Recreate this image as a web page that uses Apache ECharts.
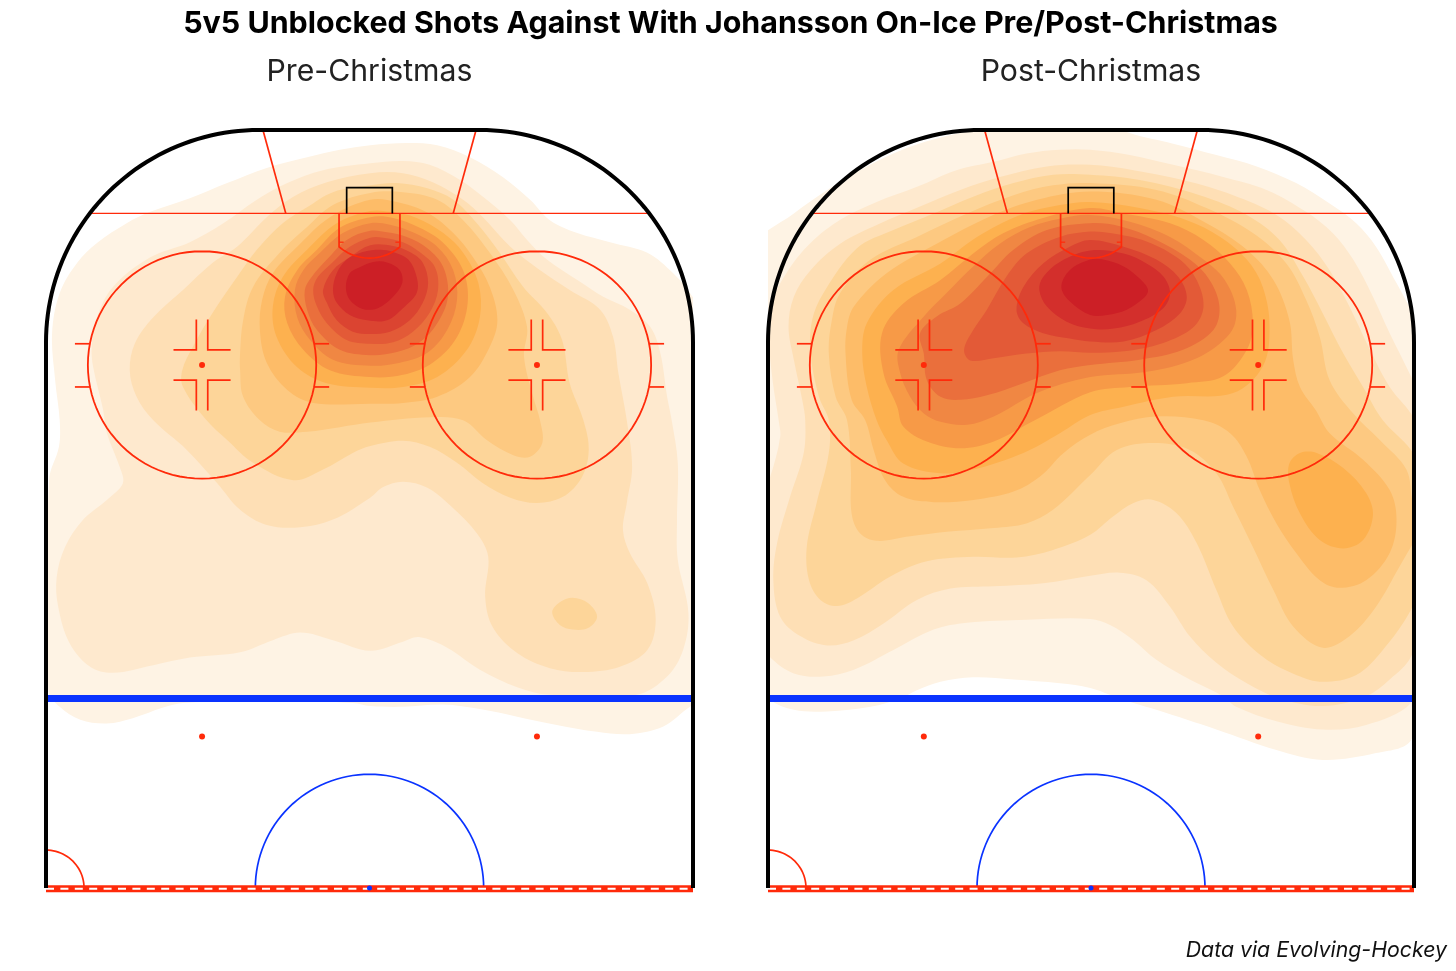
<!DOCTYPE html>
<html><head><meta charset="utf-8">
<style>html,body{margin:0;padding:0;background:#fff}#c{width:1456px;height:971px}</style>
<script src="https://cdn.jsdelivr.net/npm/echarts@6/dist/echarts.min.js"></script>
</head><body><div id="c"></div>
<script>
// All contour points are in rink feet: x = feet from centre of ice width, y = feet from the end boards.
const pre1=[[0.1,2],[4.9,1.7],[8.9,2],[13.2,3.6],[17.5,6.2],[21.1,9.2],[23.7,11.9],[27.3,13.6],[31.6,14.8],[36.5,16.2],[39.9,18.9],[42.1,21.5],[44,25],[44,70],[44,75.2],[42.1,76.1],[38.6,78.7],[34.2,79.7],[29.9,79.4],[24.6,78.5],[19.4,77.4],[14.5,76.4],[9.7,75.8],[4.4,76.1],[0.1,76],[-2.2,75.6],[-12.7,75.2],[-24.5,75.6],[-27.1,76.2],[-31.1,77.6],[-34.5,78.3],[-38,77.8],[-40.7,76.1],[-42.2,73.9],[-42.1,46.2],[-40.8,41.8],[-40.7,38.3],[-41.3,33],[-41.7,26.8],[-40.7,21.5],[-38.4,17.5],[-35.8,14.9],[-31.9,12.3],[-28.8,10.8],[-23.6,9],[-18.7,7],[-13.5,5],[-8.2,3.6],[-3.9,2.6]];
const pre2=[[0.1,4.4],[4.4,4.1],[7.9,4.6],[11.9,6.6],[15.4,9.2],[18.5,11.9],[20.7,14.5],[23.3,17.1],[27.3,19.8],[30.7,22],[34.2,23.7],[36.9,26],[38.2,29.4],[39.1,35.2],[39.7,38.3],[40.5,43.9],[40.4,51.4],[40.5,56.7],[41.9,63.7],[41.2,68.6],[39.1,72.1],[35.1,74.5],[23.7,74.5],[19.4,73.5],[14.5,71.2],[10.2,68.3],[6.5,66.9],[4.4,67.5],[0.1,68.7],[-4.8,67.3],[-9.1,66.3],[-12.7,67.3],[-17,68.9],[-23.6,69.6],[-28.4,70.6],[-33.7,71.6],[-36.7,70.8],[-39.4,67.7],[-40.9,62.9],[-41.1,59],[-40,55],[-37.6,51.4],[-34.5,48.8],[-32.4,46.6],[-32.8,44.5],[-34.5,40],[-35,36.9],[-36.3,31.3],[-36.5,28.6],[-35.8,24.7],[-33.7,20.7],[-28.8,16.8],[-23.6,14.8],[-19.2,12.3],[-14.8,9.2],[-10.8,7],[-6.1,5.3]];
const pre3=[[0.1,5.7],[4.4,5.7],[8.3,6.9],[12.3,9.2],[14.9,11.5],[18.5,15.4],[22,18.2],[26.3,21.1],[30.3,23.7],[32,27.3],[32.7,32.1],[33.8,38.3],[34.5,44.5],[33.8,49.2],[33.3,52.8],[34.2,55.8],[36.5,59.8],[37.6,64.6],[36.5,68.6],[32.9,70.8],[28.1,71.5],[23.7,71],[19.4,69],[16.2,65.6],[15.2,61.6],[15.6,56.3],[14.1,53.2],[11,49.9],[7.6,47.2],[4.4,46.4],[1.8,47.1],[0.1,48.5],[-4.8,51.4],[-9.1,52.4],[-13.5,52.1],[-17,50.1],[-20,46.6],[-24,42.2],[-28.4,38.3],[-30.6,35.2],[-31.5,31.7],[-30.8,28.1],[-28.4,24.7],[-24.5,21.1],[-20.6,17.5],[-17.4,15.4],[-13.5,11.5],[-10,8.8],[-5.6,6.9]];
const pre4=[[0.1,7.3],[3.6,7],[7.6,7.7],[11,9.2],[14.1,12.3],[17.1,16.2],[20.2,20.7],[23.3,24.1],[25.3,27.7],[26.3,33.4],[28.1,38.3],[28.8,42.2],[27.9,45.8],[25.4,48.4],[22,49.2],[18.5,48.5],[14.9,46.6],[11.5,43.9],[7.9,41.8],[4.4,41],[0.1,41.7],[-2.2,42.6],[-6.1,44.8],[-10,46.2],[-15.3,43.9],[-18.7,40.9],[-21.4,38.3],[-24.5,33.9],[-24.6,31.7],[-23.2,28.6],[-20.6,24.1],[-17.4,19.4],[-14.8,15.8],[-11.4,12.3],[-8.2,10.2],[-4.8,8.2]];
const pre4b=[[24,63.6],[25,62.3],[26.7,61.7],[28.7,62.4],[29.9,64.2],[28.7,65.7],[26.7,65.9],[25,65.3]];
const pre5=[[0.1,8.3],[4.4,8.2],[8.9,9.2],[12.3,11.9],[15.8,16.2],[18.9,21.1],[20.7,26],[20.3,29.9],[21.5,35.2],[22.4,38.3],[22.7,41.3],[21.1,43.1],[18.9,42.9],[15.4,40.9],[12.3,38.3],[7.9,37.9],[0.1,38.6],[-3.9,39.2],[-8.2,39.8],[-11.8,39.8],[-14.4,38.3],[-16.6,35.2],[-17,31.7],[-17,29.4],[-16.6,25.1],[-15.3,20.7],[-11.8,16.2],[-8.2,12.8],[-4.8,9.9]];
const pre6=[[0.1,9.2],[3.6,9.5],[7.6,10.9],[11,13.6],[13.6,16.8],[15.8,20.7],[16.8,25.1],[15.8,28.6],[13.2,32.6],[8.9,35.2],[4.4,36],[0.1,36.1],[-7.4,36],[-10.8,34.3],[-13.5,30.7],[-14.4,26.4],[-14.1,22.4],[-12.7,18.9],[-9.5,15.4],[-5.2,11.5]];
const pre7=[[0.1,10.7],[2.7,10.8],[6.2,11.6],[9.7,13.6],[12.3,16.2],[14.3,20.2],[14.5,24.7],[12.8,29],[8.9,32.6],[4.4,33.9],[0.1,34],[-5.6,33.4],[-9.5,31.3],[-12.2,27.3],[-12.7,23.3],[-11.4,19.4],[-8.2,15.8],[-4.3,12.3]];
const pre8=[[0.1,11.5],[3.1,11.6],[6.6,12.9],[9.7,14.9],[12.3,18.5],[12.9,22.8],[11.5,27.3],[8.3,30.7],[4.4,32.3],[0.1,32.6],[-5.2,31.7],[-8.7,29],[-10.8,25.5],[-11.1,22],[-9.5,18.5],[-6.9,15.8],[-3.9,12.9]];
const pre9=[[0.1,12.3],[2.7,12.5],[5.7,13.5],[8.9,15.4],[11,18.5],[11.5,22.4],[10.2,26.4],[7.6,29.4],[4,30.7],[0.1,31.1],[-4.8,30.3],[-7.8,27.7],[-9.5,24.7],[-9.8,21.1],[-8.7,18.5],[-6.5,16.2],[-3.5,13.6]];
const pre10=[[0.1,13.3],[2.3,13.5],[4.9,14.1],[7.6,15.6],[9.7,18.1],[10.3,22],[8.9,25.5],[6.6,28],[3.6,29.3],[0.1,29.7],[-3.9,29],[-6.9,26.4],[-8.2,23.7],[-8.5,21.1],[-7.6,19.4],[-5.6,17.1],[-3,14.5]];
const pre11=[[0.1,14.2],[1.8,14.2],[4.4,14.8],[6.6,16.1],[8.6,18.1],[9,21.1],[7.9,24.1],[5.7,26.6],[3.1,28],[0.1,28.2],[-3,27.7],[-5.6,25.5],[-6.9,23.3],[-7.4,21.1],[-6.8,19.4],[-4.9,17.5],[-2.6,15.4]];
const pre12=[[0.1,15.2],[3.1,15.3],[5.3,16.1],[7,17.5],[7.7,20.2],[7,22.8],[5.3,25.1],[2.7,26.6],[0.1,26.9],[-2.2,26.6],[-4.3,25.1],[-5.6,22.8],[-6.1,21.1],[-4.8,18.5],[-2.6,16.8]];
const pre13=[[1.4,15.8],[3.1,16.1],[5.1,17.1],[6.2,19.4],[6.2,21.5],[4.4,23.5],[2.3,25.1],[-0.3,25.1],[-2.6,24.4],[-4.3,22.8],[-4.8,21.1],[-4.3,18.9],[-3,17.1],[-0.9,16.1]];
const pre14=[[0.5,17.4],[2.4,17.5],[4,18.5],[4.3,20.2],[3.1,22],[1.1,23.5],[-0.9,23.6],[-2.6,22.4],[-3.1,20.7],[-2.6,18.9],[-1.5,18.2]];

const post1=[[-6.7,-1.3],[1.2,-1.3],[5.1,0.4],[10.8,1.8],[16.5,3.3],[21.8,4.8],[27,7],[31.4,9.7],[34.9,12.3],[37.5,15.4],[40.2,20.2],[42.1,23.7],[44,27],[44,72],[42.1,80.5],[37.5,82.2],[30.5,83.1],[24.4,81.8],[16.5,79.1],[8.6,76.5],[5.6,75.6],[2.5,74.5],[-0.1,73.6],[-4.1,73],[-10.2,72.5],[-15.5,72.2],[-19.8,72.8],[-22.9,73.9],[-25.1,75],[-29,76.1],[-34.7,76.7],[-39.1,76.5],[-42.2,75.2],[-44,73],[-44,28],[-44,15.2],[-39.1,11],[-34.7,7.9],[-30.4,5.3],[-26,3.1],[-21.6,1.5],[-17.2,0.4],[-13.7,-0.1]];
const post2=[[-0.1,2.6],[5.1,3.3],[10.8,4.6],[17.4,6.2],[23.1,7.9],[28.3,10.8],[31.8,13.6],[34.5,17.1],[37.1,22],[39.3,26.8],[42.1,32.5],[44,37],[44,70],[42.1,75.6],[36.2,78.5],[30.5,79.1],[24.4,78],[19.1,76.1],[17.4,74.7],[13,72.5],[8.6,69.9],[5.6,67.3],[2.5,65.3],[-0.1,64.5],[-8.5,64.6],[-16.3,65],[-20.7,65.9],[-26,68.6],[-31.2,71.2],[-35.2,72.1],[-39.1,71.7],[-42.3,69.5],[-44,67],[-44,50],[-42.2,45.7],[-40.9,40.5],[-41.1,38.3],[-41.9,33],[-42.4,27.3],[-42.2,23.3],[-40.4,19.4],[-37.4,15.4],[-33.4,12.1],[-28.2,9.5],[-22.9,7.5],[-17.7,5.3],[-12.8,4.2],[-8.5,3.1],[-4.1,2.6]];
const post3=[[-0.1,4.6],[5.6,5.3],[12.1,6.6],[18.7,8.6],[24.4,11.2],[28.3,14.5],[31.4,18.5],[34,23.3],[36.7,29],[39.3,33.9],[42.1,37.4],[44,41],[44,63],[42.1,69.5],[39.3,72.5],[36.2,74.7],[30.5,76],[24.8,75],[20.5,73],[16.5,70.3],[13,66.8],[10.4,62.9],[7.3,59.4],[3.8,58.4],[-0.1,58.8],[-6.3,59.8],[-12.8,60.2],[-18.5,60.5],[-22.9,62],[-27.3,65.1],[-31.2,67.3],[-34.7,68],[-38.2,66.8],[-40.9,64.2],[-41.8,59.4],[-41.3,54.5],[-39.6,48.4],[-37.8,42.6],[-37.6,38.3],[-38,35.6],[-39.1,30.3],[-39.8,26],[-39.1,22],[-36.9,18.5],[-33,15],[-27.7,12.3],[-22.5,10.1],[-17.2,7.9],[-12,6.2],[-5.8,4.8]];
const post4=[[-0.1,5.9],[6.4,6.6],[14.3,8.6],[20.5,11.2],[24.8,14.5],[27.9,19.3],[30.5,24.2],[33.2,29.5],[35.8,33.9],[38.4,38.3],[42.1,42.2],[44,46],[44,58],[42.1,63.3],[38.4,68.6],[34.9,71.9],[30.5,72.8],[27,71.9],[22.6,69.5],[18.7,65.5],[16.5,60.7],[13.9,54.5],[11.3,50.6],[8.2,48.8],[5.6,49.2],[2.9,51],[-0.1,53.4],[-5,55.4],[-9.8,56.4],[-15.5,56.3],[-21.6,56.9],[-26.4,58.9],[-30.8,61.8],[-33.4,62.8],[-35.6,62],[-37.1,59.4],[-37.4,55],[-36.1,49.2],[-34.5,42.6],[-34.5,38.3],[-35.8,35.2],[-36.9,29.5],[-36.7,25.1],[-35.2,21.5],[-30.8,15.6],[-26,13.2],[-20.7,11],[-15.5,8.8],[-10.2,7],[-5,5.9]];
const post5=[[-0.1,7],[8.6,7.9],[15.2,10.3],[21.3,13.6],[25.7,17.6],[28.3,22.4],[30.1,27.3],[31.4,33],[34.5,37.4],[38,40.9],[41.5,44.8],[42.4,49.2],[44,52],[42.4,54.5],[40.6,57.6],[37.5,62.9],[34,66.8],[30.5,68.3],[26.6,65.5],[24,60.7],[21.3,55],[18.7,49.7],[16.5,45.3],[13,42.2],[8.2,41.3],[3.4,42.2],[-0.1,45.5],[-5,50.1],[-8.5,51.9],[-12.8,52.5],[-19,53],[-23.8,53.6],[-28.2,54.2],[-30.4,53.2],[-31.5,50.6],[-31.6,44.8],[-32.1,38.3],[-33.6,35.2],[-34.5,29.5],[-34.1,25.1],[-33,21.5],[-29,17.1],[-22.9,14.1],[-16.3,11],[-10.2,8.6],[-5,7.3]];
const post6=[[-0.1,8.1],[8.6,9.2],[15.2,12.3],[20.5,15.8],[24,19.8],[26.1,25.1],[26.6,30.3],[27.5,33.9],[29.6,37],[31.4,40],[35.8,43.5],[39.3,47.5],[40.2,51.4],[39.3,55.8],[36.2,59.4],[32.7,60.4],[30.1,59.4],[27,55.8],[24.4,51.9],[22.2,47.5],[20.5,43.1],[18.3,40],[14.8,38.3],[8.6,37.8],[3.8,38.7],[-0.1,40.2],[-3.6,42.6],[-6.7,45.7],[-10.2,47.7],[-15.5,48.8],[-20.7,49.1],[-24.7,48.4],[-27.1,46.2],[-28.6,42.2],[-29.7,38.3],[-31.5,35.6],[-32.3,29.5],[-32.1,26],[-31.2,23.3],[-26.9,18.9],[-20.3,15],[-13.3,11.4],[-7.1,9.2]];
const post7=[[-0.1,9.5],[6.4,10.3],[12.6,11.9],[17,14.1],[20.5,17.1],[22.6,20.7],[23.5,26],[22.6,31.2],[18.7,34.7],[10.8,35.2],[4.3,36.5],[-0.1,37.6],[-4.1,40],[-8.9,42.6],[-15.5,44.8],[-19.8,45.3],[-24.7,44],[-26.9,40.9],[-28.2,38.3],[-29.5,33.9],[-30.1,29.5],[-29.5,25.5],[-26,21.1],[-19.8,17.6],[-15,14.1],[-9.3,11.2],[-4.1,9.9]];
const post7b=[[26.1,44],[27.5,42.6],[29.7,42.6],[33.2,44.6],[36.2,47.9],[37.1,50.8],[35.8,54.1],[33.2,55.2],[30.1,54.1],[27.5,50.6],[26.1,46.6]];
const post8=[[-0.1,10.3],[4.3,11],[10.4,12.3],[14.8,14.5],[18.3,17.6],[20.5,21.1],[21.3,25.5],[20.5,29],[17.4,32.5],[12.6,33.4],[5.1,33.9],[-0.1,34.6],[-7.4,38.3],[-12.8,41.1],[-17.2,42],[-21.6,41.1],[-24.7,39.1],[-25.5,36.5],[-27.3,32.1],[-27.5,26.8],[-24.7,22.9],[-19.8,19.8],[-15.5,16.3],[-11.5,13.6],[-6.3,11.6]];
const post9=[[-0.1,11.2],[5.1,12.1],[10.4,14.1],[14.8,17.1],[17.6,19.8],[19.1,23.7],[18.3,26.8],[13.9,30.1],[7.3,31.9],[-0.1,32.6],[-7.1,34.7],[-12.8,37.8],[-16.3,38.9],[-19.8,38.5],[-22,37.4],[-23.8,35.2],[-25.1,32.1],[-25.3,29],[-22,24.6],[-19,21.5],[-15.5,18],[-12,15],[-8,12.8],[-4.1,11.7]];
const post10=[[-0.1,12.3],[3.8,12.7],[8.6,14.5],[13,17.1],[15.6,19.8],[16.9,23.3],[16.1,26.4],[12.1,29],[6.4,30.3],[-0.1,31],[-4.1,31.7],[-8.9,33.4],[-13.7,35],[-17.2,35.6],[-19.8,35.2],[-21.6,33],[-22,29.5],[-22.5,26.8],[-20.3,24.6],[-17.2,22.9],[-13.7,19.4],[-10.2,15.8],[-5.8,13.2]];
const post11=[[-0.1,13.4],[2.5,13.6],[7.3,14.7],[11.7,17.1],[13.9,19.8],[14.8,23.3],[13.5,26],[9.5,28.1],[4.3,29.2],[-0.1,29.4],[-4.1,29.2],[-8.5,29.5],[-12.8,30.1],[-15.9,30.4],[-16.7,29],[-15.5,26.4],[-13.7,23.7],[-11.1,19.3],[-8.5,16.3],[-4.1,14.1]];
const post12=[[-0.1,14.5],[4.3,15.4],[8.6,17.1],[11.5,19.4],[12.6,22],[11.7,24.2],[8.6,26.4],[4.3,27.9],[-0.1,27.9],[-2.8,27.5],[-6.3,26.8],[-8.9,25.5],[-9.8,23.7],[-8.9,20.7],[-6.3,17.6],[-2.8,15.4]];
const post13=[[-0.1,15.9],[4.3,16.3],[7.3,17.6],[9.5,19.3],[10.4,21.5],[9.5,23.5],[6.4,25.3],[3,26.2],[-0.1,26.2],[-3.2,25.3],[-5.8,23.3],[-6.8,21.1],[-6.3,19.4],[-4.1,17.4]];
const post14=[[-0.1,17.1],[1.6,17.1],[4.3,18],[6.4,19.6],[7.5,21.1],[6.9,22.2],[4.7,23.7],[2.1,24.4],[-0.1,24.4],[-2.8,22.6],[-3.9,20.7],[-2.8,18.5]];

const titleText='5v5 Unblocked Shots Against With Johansson On-Ice Pre/Post-Christmas';
const panelNames=['Pre-Christmas','Post-Christmas'];
const sourceText='Data via Evolving-Hockey';
const levelColors=['#fef3e4','#fee9ce','#fedfb5','#fdd599','#fdc981','#fdbc68','#fdb14f','#f79a47','#f08743','#ea6f3c','#e35a37','#db4431','#d32f2c','#cc1f26'];
const preContours=[[pre1,0],[pre2,1],[pre3,2],[pre4,3],[pre4b,3],[pre5,4],[pre6,5],[pre7,6],[pre8,7],[pre9,8],[pre10,9],[pre11,10],[pre12,11],[pre13,12],[pre14,13]];
const postContours=[[post1,0],[post2,1],[post3,2],[post4,3],[post5,4],[post6,5],[post7,6],[post7b,6],[post8,7],[post9,8],[post10,9],[post11,10],[post12,11],[post13,12],[post14,13]];

// rink geometry, feet
const RED='#ff2a0a',BLUE='#0a33ff',BLK='#000';
function arc(cx,cy,r,a0,a1,n){const p=[];n=n||48;for(let i=0;i<=n;i++){const a=(a0+(a1-a0)*i/n)*Math.PI/180;p.push([+(cx+r*Math.cos(a)).toFixed(3),+(cy+r*Math.sin(a)).toFixed(3)]);}return p;}
const boards=[[-42.5,100],...arc(-14.5,28,28,180,270),...arc(14.5,28,28,270,360),[42.5,100]];
const rinkLines=[
 {d:[[-36.8,11],[36.8,11]],c:RED,w:1.4},
 {d:[[-14,0],[-11,11]],c:RED,w:1.7},
 {d:[[14,0],[11,11]],c:RED,w:1.7},
 {d:[[-3,11],[-3,7.6],[3,7.6],[3,11]],c:BLK,w:1.7},
 {d:[[4,11],[4,15.4],...arc(0,10.82,6.08,48.9,131.1,24),[-4,11]],c:RED,w:1.7},
 {d:[[-4,14.8],[-3.4,14.8]],c:RED,w:1.2},{d:[[4,14.8],[3.4,14.8]],c:RED,w:1.2},
 {d:arc(-22,31,15,0,360,96),c:RED,w:1.8},{d:arc(22,31,15,0,360,96),c:RED,w:1.8},
 {d:arc(0,100,15,180,360,64),c:BLUE,w:1.7},
 {d:arc(-42.5,100,5,270,360,24),c:RED,w:1.7},
 {d:[[-42.5,75],[42.5,75]],c:BLUE,w:7},
 {d:[[-42.5,100.1],[42.5,100.1]],c:RED,w:7},
 {d:[[-42.5,100.1],[42.5,100.1]],c:'#fff',w:1.8,t:[8,6.4]},
 {d:boards,c:BLK,w:4}
];
[-22,22].forEach(cx=>{
 [28.2,33.9].forEach(y=>{
  rinkLines.push({d:[[cx-14.7,y],[cx-16.7,y]],c:RED,w:1.7});
  rinkLines.push({d:[[cx+14.7,y],[cx+16.7,y]],c:RED,w:1.7});
 });
 [-1,1].forEach(sx=>[-1,1].forEach(sy=>{
  rinkLines.push({d:[[cx+sx*3.75,31+sy*2],[cx+sx*0.75,31+sy*2],[cx+sx*0.75,31+sy*6]],c:RED,w:1.7});
 }));
});
const redDots=[[-22,31],[22,31],[-22,80],[22,80]];
const blueDot=[[0,100]];

function contourSeries(pts,lvl,panel,order){
 return {type:'custom',coordinateSystem:'cartesian2d',xAxisIndex:panel,yAxisIndex:panel,clip:true,silent:true,z:1+order*0.01,
  encode:{x:0,y:1},data:pts,
  renderItem:function(params,api){
   if(params.dataIndex!==0)return null;
   return {type:'polygon',shape:{points:pts.map(p=>api.coord(p)),smooth:0.35},style:{fill:levelColors[lvl],stroke:null}};
  }};
}
const series=[];
[preContours,postContours].forEach((cs,panel)=>{
 cs.forEach((c,i)=>series.push(contourSeries(c[0],c[1],panel,i)));
 rinkLines.forEach(l=>series.push({type:'line',xAxisIndex:panel,yAxisIndex:panel,data:l.d,symbol:'none',silent:true,clip:false,z:5,
   lineStyle:{color:l.c,width:l.w,type:l.t||'solid',cap:'butt',join:'miter'}}));
 series.push({type:'scatter',xAxisIndex:panel,yAxisIndex:panel,data:redDots,symbolSize:6,silent:true,clip:false,z:6,itemStyle:{color:RED,opacity:1}});
 series.push({type:'scatter',xAxisIndex:panel,yAxisIndex:panel,data:blueDot,symbolSize:5,silent:true,clip:false,z:7,itemStyle:{color:BLUE,opacity:1}});
});
const ax=(g,min,max,inv)=>({type:'value',gridIndex:g,min,max,inverse:inv,show:false,splitLine:{show:false},axisLine:{show:false},axisTick:{show:false},axisLabel:{show:false}});
const chart=echarts.init(document.getElementById('c'),null,{renderer:'canvas'});
chart.setOption({
 animation:false,backgroundColor:'#fff',
 title:[
  {text:titleText,left:725.5,top:3.5,textAlign:'center',textStyle:{fontFamily:'Inter',fontWeight:700,fontSize:30.4,color:'#000'}},
  {text:panelNames[0],left:364.5,top:52,textAlign:'center',textStyle:{fontFamily:'Inter',fontWeight:400,fontSize:30.2,color:'#222'}},
  {text:panelNames[1],left:1086,top:52,textAlign:'center',textStyle:{fontFamily:'Inter',fontWeight:400,fontSize:30.2,color:'#222'}},
  {text:sourceText,right:4,top:935,textStyle:{fontFamily:'Inter',fontStyle:'italic',fontWeight:400,fontSize:21.3,color:'#111'}}
 ],
 grid:[{left:46,top:130,width:647,height:758},{left:768,top:130,width:646,height:758}],
 xAxis:[ax(0,-42.5,42.5,false),ax(1,-42.5,42.5,false)],
 yAxis:[ax(0,0,100,true),ax(1,0,100,true)],
 series
});
</script></body></html>
